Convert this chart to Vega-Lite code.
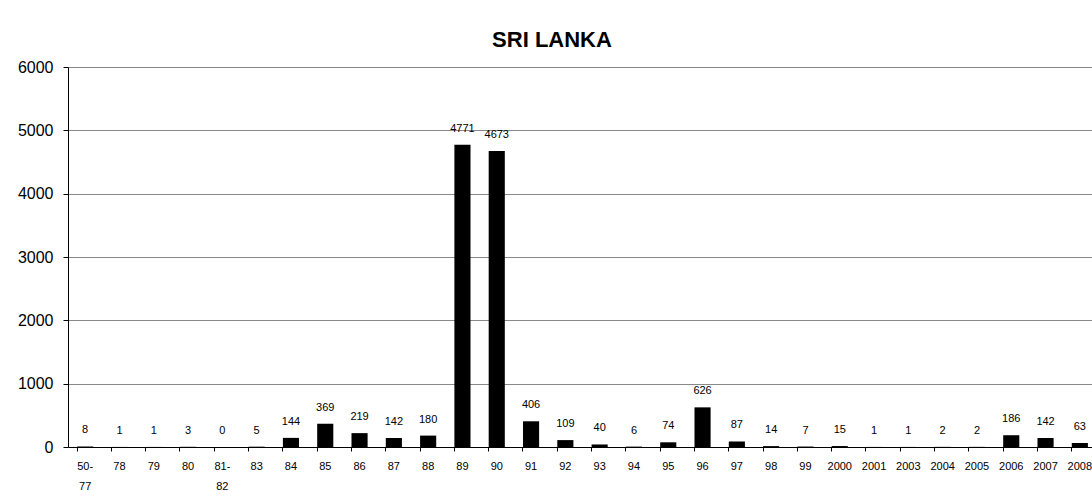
{
  "$schema": "https://vega.github.io/schema/vega-lite/v6.json",
  "autosize": "none",
  "padding": {"left": 68, "top": 67, "right": 0, "bottom": 51},
  "width": 1024,
  "height": 380,
  "background": "white",
  "config": {"view": {"stroke": null}, "font": "Liberation Sans"},
  "title": {"text": "SRI LANKA", "fontSize": 22, "fontWeight": "bold", "font": "Liberation Sans", "color": "black", "anchor": "middle", "frame": "group", "baseline": "alphabetic", "offset": 19, "dx": -28, "dy": 29},
  "data": {"values": [
    {"period": "50-77", "count": 8},
    {"period": "78", "count": 1},
    {"period": "79", "count": 1},
    {"period": "80", "count": 3},
    {"period": "81-82", "count": 0},
    {"period": "83", "count": 5},
    {"period": "84", "count": 144},
    {"period": "85", "count": 369},
    {"period": "86", "count": 219},
    {"period": "87", "count": 142},
    {"period": "88", "count": 180},
    {"period": "89", "count": 4771},
    {"period": "90", "count": 4673},
    {"period": "91", "count": 406},
    {"period": "92", "count": 109},
    {"period": "93", "count": 40},
    {"period": "94", "count": 6},
    {"period": "95", "count": 74},
    {"period": "96", "count": 626},
    {"period": "97", "count": 87},
    {"period": "98", "count": 14},
    {"period": "99", "count": 7},
    {"period": "2000", "count": 15},
    {"period": "2001", "count": 1},
    {"period": "2003", "count": 1},
    {"period": "2004", "count": 2},
    {"period": "2005", "count": 2},
    {"period": "2006", "count": 186},
    {"period": "2007", "count": 142},
    {"period": "2008", "count": 63}
  ]},
  "encoding": {
    "x": {"field": "period", "type": "nominal", "sort": null,
      "scale": {"range": [0, 1029], "paddingInner": 0.53, "paddingOuter": 0.265},
      "axis": {"title": null, "labelAngle": 0, "labelFontSize": 11, "labelColor": "black", "labelPadding": 9, "labelLineHeight": 20,
        "labelExpr": "indexof(datum.label, '-') > 0 ? [slice(datum.label, 0, 3), slice(datum.label, 3)] : datum.label",
        "domainColor": "black", "tickColor": "black", "tickSize": 4, "bandPosition": 0, "grid": false}},
    "y": {"field": "count", "type": "quantitative",
      "scale": {"domain": [0, 6000], "nice": false},
      "axis": {"title": null, "values": [0, 1000, 2000, 3000, 4000, 5000, 6000], "format": "d", "labelFontSize": 16, "labelColor": "black", "labelPadding": 10,
        "domainColor": "black", "tickColor": "black", "tickSize": 5, "grid": true, "gridColor": "#888888", "gridWidth": 1}}
  },
  "layer": [
    {"mark": {"type": "bar", "color": "black"}},
    {"mark": {"type": "text", "baseline": "bottom", "dy": -11, "fontSize": 11, "color": "black", "font": "Liberation Sans"},
      "encoding": {"text": {"field": "count", "type": "quantitative"}}}
  ]
}
